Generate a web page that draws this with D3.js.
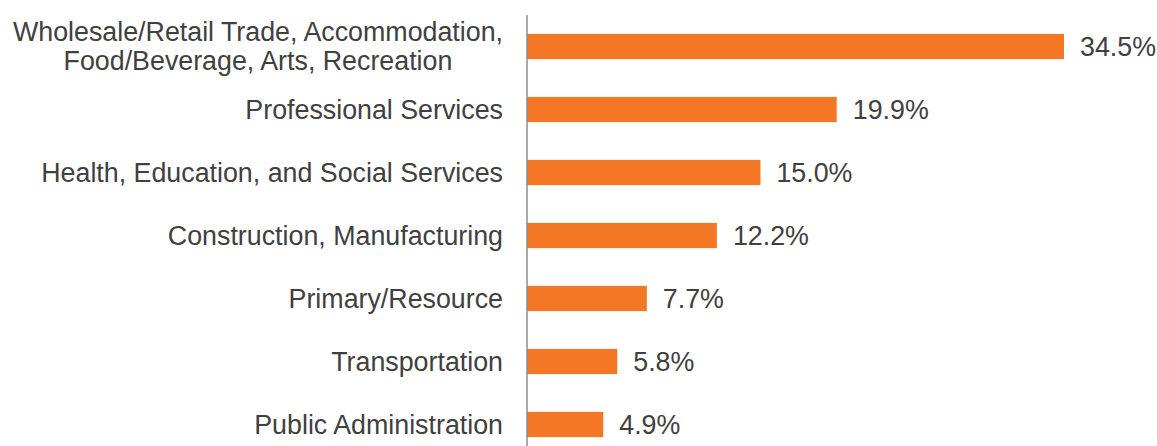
<!DOCTYPE html>
<html><head><meta charset="utf-8">
<script src="https://cdn.jsdelivr.net/npm/d3@7"></script>
<style>body{margin:0;background:#fff;}svg{display:block;}</style>
</head><body>
<svg id="chart" width="1157" height="446"></svg>
<script>
const categories = [
  ["Wholesale/Retail Trade, Accommodation,", "Food/Beverage, Arts, Recreation"],
  ["Professional Services"],
  ["Health, Education, and Social Services"],
  ["Construction, Manufacturing"],
  ["Primary/Resource"],
  ["Transportation"],
  ["Public Administration"]
];
const values = [34.5, 19.9, 15.0, 12.2, 7.7, 5.8, 4.9];
const valueLabels = ["34.5%", "19.9%", "15.0%", "12.2%", "7.7%", "5.8%", "4.9%"];

const svg = d3.select("#chart");
const x0 = 527;
const x = d3.scaleLinear().domain([0, 34.5]).range([x0, 1064]);
const idx = d3.range(values.length);
const y = d3.scaleBand().domain(idx).range([15, 456]).paddingInner(0.6).paddingOuter(0.3);
const font = "'Liberation Sans', Arial, sans-serif";
const fs = 26.8;
const textColor = "#404040";

svg.selectAll("rect.bar").data(idx).join("rect")
  .attr("class", "bar")
  .attr("x", x0)
  .attr("y", i => y(i))
  .attr("width", i => x(values[i]) - x0)
  .attr("height", y.bandwidth())
  .attr("fill", "#F47725");

svg.append("line")
  .attr("x1", x0).attr("x2", x0)
  .attr("y1", 15).attr("y2", 446)
  .attr("stroke", "#8c8c8c").attr("stroke-width", 1.5);

svg.selectAll("text.val").data(idx).join("text")
  .attr("class", "val")
  .attr("x", i => x(values[i]) + 16)
  .attr("y", i => y(i) + y.bandwidth() / 2)
  .attr("dy", "0.35em")
  .attr("font-family", font).attr("font-size", fs)
  .attr("fill", textColor)
  .text(i => valueLabels[i]);

const lh = 29;
idx.forEach(i => {
  const lines = categories[i];
  const cy = y(i) + y.bandwidth() / 2;
  const multi = lines.length > 1;
  const g = svg.append("text")
    .attr("font-family", font).attr("font-size", fs)
    .attr("fill", textColor);
  lines.forEach((ln, k) => {
    g.append("tspan")
      .attr("x", 503)
      .attr("y", cy + (k - (lines.length - 1) / 2) * lh)
      .attr("dy", "0.35em")
      .attr("text-anchor", "end")
      .text(ln);
  });
  if (multi) {
    const tspans = g.selectAll("tspan").nodes();
    const widths = tspans.map(t => t.getComputedTextLength());
    const maxW = Math.max(...widths);
    const center = 503 - maxW / 2;
    tspans.forEach(t => { d3.select(t).attr("x", center).attr("text-anchor", "middle"); });
  }
});
</script>
</body></html>
